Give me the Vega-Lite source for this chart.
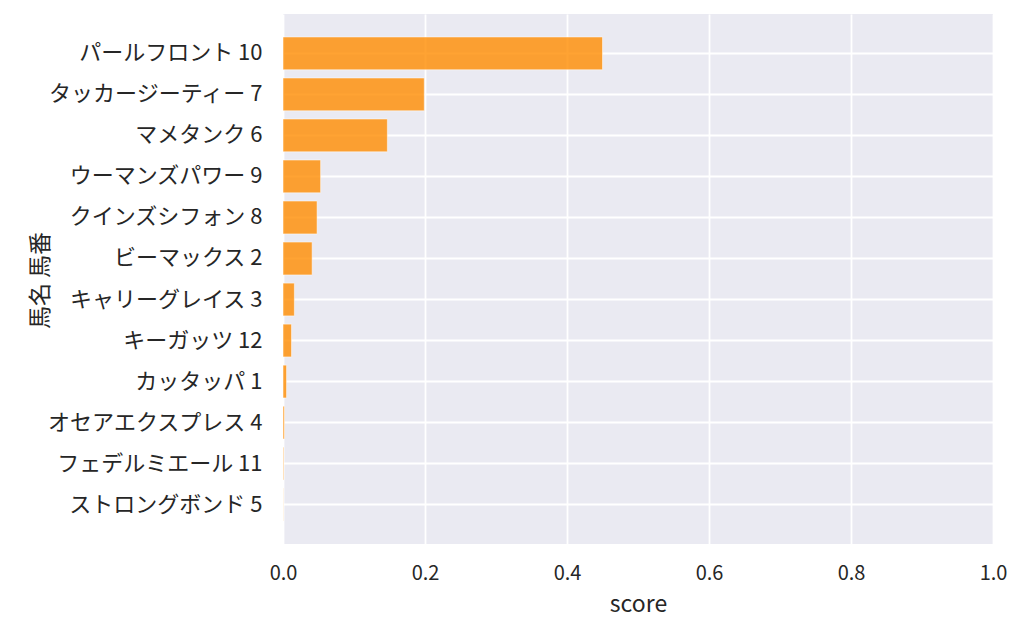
{
  "$schema": "https://vega.github.io/schema/vega-lite/v6.json",
  "autosize": "none",
  "width": 710,
  "height": 530,
  "padding": {"left": 283, "top": 14, "right": 31, "bottom": 90},
  "background": "white",
  "config": {
    "font": "Noto Sans CJK JP",
    "view": {"fill": "#EAEAF2", "stroke": null},
    "axis": {
      "domain": false,
      "ticks": false,
      "grid": true,
      "gridColor": "white",
      "gridWidth": 1.8,
      "labelFont": "Noto Sans CJK JP",
      "labelColor": "#262626",
      "labelLimit": 400,
      "titleFont": "Noto Sans CJK JP",
      "titleFontSize": 23,
      "titleFontWeight": "normal",
      "titleColor": "#262626"
    }
  },
  "data": {
    "values": [
      {"name": "パールフロント 10", "score": 0.450},
      {"name": "タッカージーティー 7", "score": 0.199},
      {"name": "マメタンク 6", "score": 0.147},
      {"name": "ウーマンズパワー 9", "score": 0.053},
      {"name": "クインズシフォン 8", "score": 0.048},
      {"name": "ビーマックス 2", "score": 0.041},
      {"name": "キャリーグレイス 3", "score": 0.016},
      {"name": "キーガッツ 12", "score": 0.012},
      {"name": "カッタッパ 1", "score": 0.005},
      {"name": "オセアエクスプレス 4", "score": 0.002},
      {"name": "フェデルミエール 11", "score": 0.001},
      {"name": "ストロングボンド 5", "score": 0.0003}
    ]
  },
  "mark": {
    "type": "bar",
    "color": "#FF8C00",
    "fillOpacity": 0.8,
    "stroke": "white",
    "strokeOpacity": 0.5,
    "strokeWidth": 1
  },
  "encoding": {
    "x": {
      "field": "score",
      "type": "quantitative",
      "title": "score",
      "scale": {"domain": [0, 1], "nice": false},
      "axis": {
        "values": [0, 0.2, 0.4, 0.6, 0.8, 1.0],
        "format": ".1f",
        "labelFontSize": 20,
        "labelFlush": false,
        "labelPadding": 19,
        "titlePadding": 10
      }
    },
    "y": {
      "field": "name",
      "type": "nominal",
      "sort": "-x",
      "title": "馬名 馬番",
      "scale": {"paddingInner": 0.2, "paddingOuter": 0.56},
      "axis": {
        "grid": true,
        "bandPosition": 0.5,
        "labelFontSize": 22,
        "labelPadding": 21,
        "titleAngle": -90,
        "titleBaseline": "bottom",
        "titleAlign": "center",
        "titleX": -231,
        "titleY": 266
      }
    }
  }
}
